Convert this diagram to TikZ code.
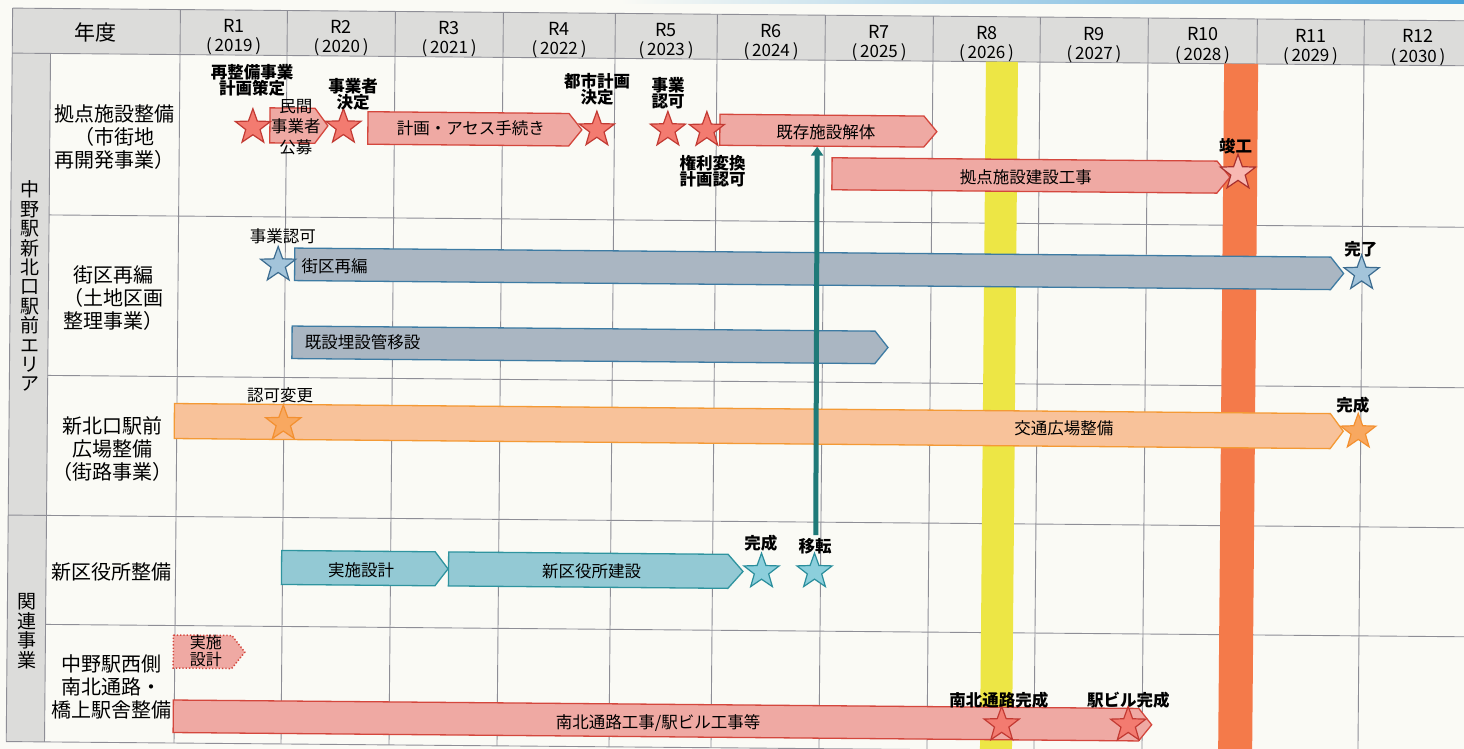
\documentclass[tikz,border=0pt]{standalone}
\usepackage{fontspec}
\setmainfont{Noto Sans CJK JP}
\usetikzlibrary{shapes.geometric,arrows.meta}
\definecolor{bg}{HTML}{FAFAF5}
\definecolor{hdr}{HTML}{DCDCDA}
\definecolor{gridc}{HTML}{8E8E96}
\definecolor{pinkfill}{HTML}{EFA9A3}
\definecolor{pinkline}{HTML}{D4473D}
\definecolor{rstarfill}{HTML}{F37B70}
\definecolor{rstarline}{HTML}{C23A33}
\definecolor{lstarfill}{HTML}{F8B8B2}
\definecolor{lstarline}{HTML}{A8302E}
\definecolor{grayfill}{HTML}{AAB6C2}
\definecolor{grayline}{HTML}{3D7BA3}
\definecolor{bstarfill}{HTML}{A3C4DA}
\definecolor{bstarline}{HTML}{3C6C90}
\definecolor{orfill}{HTML}{F8C29A}
\definecolor{orline}{HTML}{F49A35}
\definecolor{ostarfill}{HTML}{F8A860}
\definecolor{ostarline}{HTML}{F39030}
\definecolor{tlfill}{HTML}{93C9D4}
\definecolor{tlline}{HTML}{2F949F}
\definecolor{tstarfill}{HTML}{8CCFDC}
\definecolor{tstarline}{HTML}{2A8E9C}
\definecolor{tarrow}{HTML}{1F7A78}
\definecolor{yband}{HTML}{EDE645}
\definecolor{oband}{HTML}{F47A4A}
\definecolor{topblue}{HTML}{4AA2DA}
\newcommand\gbar[6][13]{\draw[#2] (#3,#5) -- ({#4-#1},#5) -- (#4,{(#5+#6)/2}) -- ({#4-#1},#6) -- (#3,#6) -- cycle;}
\tikzset{
  gridline/.style={draw=gridc, line width=0.9pt},
  catlbl/.style={font=\fontsize{20}{23}\selectfont, align=center, inner sep=0pt},
  grplbl/.style={font=\fontsize{19}{19.4}\selectfont, align=center, inner sep=0pt},
  yrlbl/.style={font=\fontsize{18}{20}\selectfont, inner sep=0pt},
  yrnum/.style={font=\fontsize{17}{19}\selectfont, inner sep=0pt},
  mslbl/.style={font=\bfseries\fontsize{16.5}{16}\selectfont, align=center, inner sep=0pt},
  mslblr/.style={font=\fontsize{16.5}{16}\selectfont, align=center, inner sep=0pt},
  bartext/.style={font=\fontsize{16.5}{18}\selectfont, align=center, inner sep=0pt},
  pinkbar/.style={fill=pinkfill, draw=pinkline, line width=1.3pt, line join=miter},
  graybar/.style={fill=grayfill, draw=grayline, line width=1.3pt},
  orbar/.style={fill=orfill, draw=orline, line width=1.3pt},
  tlbar/.style={fill=tlfill, draw=tlline, line width=1.3pt},
  mstar/.style={star, star points=5, star point ratio=2.45, minimum size=37pt, inner sep=0pt, line width=1.2pt},
  rstar/.style={mstar, fill=rstarfill, draw=rstarline},
  lstar/.style={mstar, fill=lstarfill, draw=lstarline},
  bstar/.style={mstar, fill=bstarfill, draw=bstarline},
  ostar/.style={mstar, fill=ostarfill, draw=ostarline},
  tstar/.style={mstar, fill=tstarfill, draw=tstarline},
}
\begin{document}
\begin{tikzpicture}[x=1pt,y=-1pt]
\useasboundingbox (0,0) rectangle (1464,749);
\fill[bg] (0,0) rectangle (1464,749);
\shade[left color=bg, right color=topblue] (620,0) rectangle (1464,3.5);
\begin{scope}[rotate around={-0.5:(0,0)}]
  % header and group column backgrounds
  \fill[hdr] (12.7,8) rectangle (1490,53);
  \fill[hdr] (12.7,53) rectangle (51,741.5);
  % grid
  \draw[gridline] (12.7,8) -- (1490,8);
  \draw[gridline] (12.7,53) -- (1490,53);
  \foreach \yy in {214.5,375,624} {\draw[gridline] (51,\yy) -- (1490,\yy);}
  \foreach \yy in {515,741.5} {\draw[gridline] (12.7,\yy) -- (1490,\yy);}
  \draw[gridline] (12.7,8) -- (12.7,741.5);
  \draw[gridline] (51,53) -- (51,741.5);
  \foreach \xx in {180.5,287.5,395.5,503.5,615.5,717.5,825.5,933.5,1040.5,1148.5,1257.5,1364.5} {\draw[gridline] (\xx,8) -- (\xx,741.5);}
  % header texts
  \node[font=\fontsize{21}{23}\selectfont, inner sep=0pt] (nendo) at (96,32) {年度};
  \foreach \cx/\rr/\yr [count=\i] in {234/R1/2019,341.5/R2/2020,449.5/R3/2021,559.5/R4/2022,666.5/R5/2023,771.5/R6/2024,879.5/R7/2025,987/R8/2026,1094.5/R9/2027,1203/R10/2028,1311/R11/2029,1418.5/R12/2030} {
    \node[yrlbl] (yr\i) at (\cx,24) {\rr};
    \node[yrnum] (yn\i) at (\cx,44.5) {(\,\yr\,)};
  }
  % group labels
  \node[grplbl] (grpA) at (32,286) {中\\野\\駅\\新\\北\\口\\駅\\前\\エ\\リ\\ア};
  \node[grplbl] (grpB) at (32.5,631) {関\\連\\事\\業};
  % category labels
  \node[catlbl] (cat1) at (116,136) {拠点施設整備\\（市街地\\再開発事業）};
  \node[catlbl] (cat2) at (116,297) {街区再編\\（土地区画\\整理事業）};
  \node[catlbl] (cat3) at (116,448) {新北口駅前\\広場整備\\（街路事業）};
  \node[catlbl] (cat4) at (116,571) {新区役所整備};
  \node[catlbl] (cat5) at (117,686) {中野駅西側\\南北通路・\\橋上駅舎整備};
  % highlight bands
  \fill[yband] (986.5,53) rectangle (1018.5,741.5);
  \fill[oband] (1224.7,53) rectangle (1258.7,741.5);
  % bars
  \gbar{pinkbar}{271}{329}{105.5}{140.5}
  \gbar{pinkbar}{369}{583}{108.5}{141}
  \gbar{pinkbar}{721}{938}{108}{139}
  \gbar{pinkbar}{833.5}{1231.5}{150.5}{182.5}
  \gbar{graybar}{297}{1346}{245.5}{278}
  \gbar{graybar}{295}{891}{323.5}{356}
  \gbar{orbar}{178}{1347}{402}{437}
  \gbar{tlbar}{286.5}{453}{548}{582}
  \gbar[15]{tlbar}{453.5}{748}{548}{582}
  \gbar{pinkbar, dotted, line width=1.5pt}{179}{250.5}{633.5}{666.5}
  \gbar{pinkbar}{179.5}{1158}{698.5}{731}
  % bar texts
  \node[bartext, font=\fontsize{16.5}{20.5}\selectfont] (t1) at (297,124.5) {民間\\事業者\\公募};
  \node[bartext] (t2) at (472,124.5) {計画・アセス手続き};
  \node[bartext] (t3) at (827,125) {既存施設解体};
  \node[bartext] (t4) at (1027.5,168.5) {拠点施設建設工事};
  \node[bartext] (t5) at (337,263.5) {街区再編};
  \node[bartext] (t6) at (365.5,339.5) {既設埋設管移設};
  \node[bartext] (t7) at (1067.5,419) {交通広場整備};
  \node[bartext] (t8) at (366,567) {実施設計};
  \node[bartext] (t9) at (596.5,566.5) {新区役所建設};
  \node[bartext, font=\fontsize{16}{17}\selectfont] (t10) at (211.5,649.5) {実施\\設計};
  \node[bartext] (t11) at (664.5,717) {南北通路工事/駅ビル工事等};
  % teal relocation arrow
  \coordinate (kaitaiBot) at (818.5,139.5);
  \coordinate (itenTop) at (820.5,528);
  \draw[tarrow, line width=5pt, -{Triangle[width=12pt,length=9pt]}] (itenTop) -- (kaitaiBot);
  % stars
  \node[rstar] (s1) at (254,125) {};
  \node[rstar] (s2) at (344.5,124) {};
  \node[rstar] (s3) at (598,124.5) {};
  \node[rstar] (s4) at (669,124) {};
  \node[rstar] (s5) at (708,124) {};
  \node[lstar] (s6) at (1239.5,162) {};
  \node[bstar] (s7) at (280.5,262.5) {};
  \node[bstar] (s8) at (1364,261.5) {};
  \node[ostar] (s9) at (287,421) {};
  \node[ostar] (s10) at (1362,420) {};
  \node[tstar] (s11) at (766.5,565) {};
  \node[tstar] (s12) at (819.5,564.5) {};
  \node[rstar] (s13) at (1008,716) {};
  \node[rstar] (s14) at (1134.5,715) {};
  % milestone labels
  \node[mslbl] (m1) at (252.7,78) {再整備事業\\計画策定};
  \node[mslbl] (m2) at (354,91) {事業者\\決定};
  \node[mslbl] (m3) at (598,84.5) {都市計画\\決定};
  \node[mslbl] (m4) at (669,87) {事業\\認可};
  \node[mslbl] (m5) at (714,165) {権利変換\\計画認可};
  \node[mslbl] (m6) at (1237,135) {竣工};
  \node[mslblr] (m7) at (285,234) {事業認可};
  \node[mslbl] (m8) at (1363,237) {完了};
  \node[mslblr] (m9) at (283.5,392.5) {認可変更};
  \node[mslbl] (m10) at (1356.5,393) {完成};
  \node[mslbl] (m11) at (765.5,537) {完成};
  \node[mslbl] (m12) at (820,539.5) {移転};
  \node[mslbl] (m13) at (1005,691) {南北通路完成};
  \node[mslbl] (m14) at (1134.5,690) {駅ビル完成};
\end{scope}
\end{tikzpicture}
\end{document}
